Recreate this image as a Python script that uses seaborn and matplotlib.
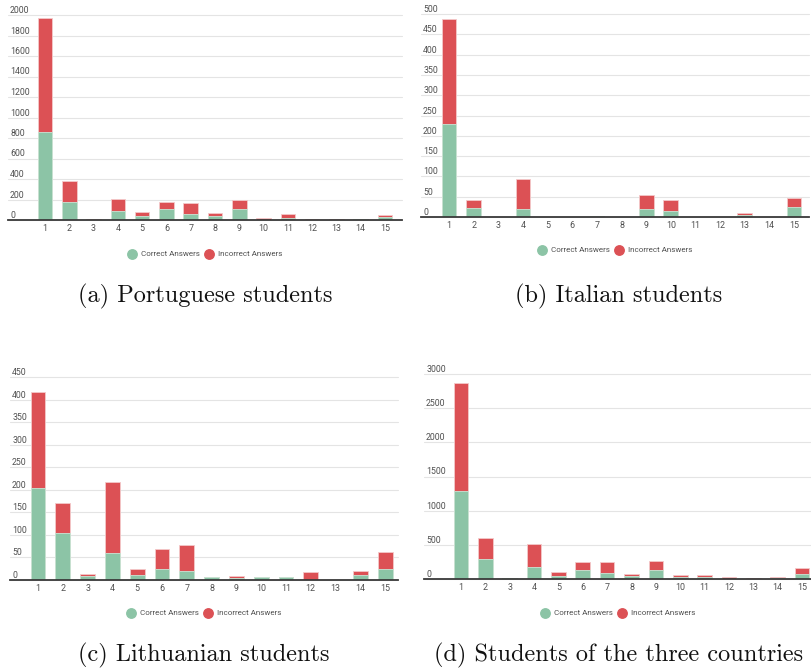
import matplotlib
matplotlib.use("Agg")
import matplotlib.pyplot as plt
from matplotlib.lines import Line2D
import seaborn as sns
import numpy as np

# Question numbers
questions = [str(i) for i in range(1, 16)]

# (a) Portuguese students
correct_pt = [855, 173, 3, 91, 39, 108, 62, 39, 108, 4, 16, 3, 2, 5, 30]
incorrect_pt = [1112, 209, 5, 114, 36, 71, 108, 29, 91, 12, 39, 5, 6, 0, 19]

# (b) Italian students
correct_it = [230, 23, 0, 19, 0, 0, 2, 0, 19, 16, 0, 0, 4, 0, 24]
incorrect_it = [258, 20, 0, 74, 0, 0, 0, 0, 34, 27, 0, 0, 7, 0, 24]

# (c) Lithuanian students
correct_lt = [203, 105, 9, 60, 10, 25, 20, 6, 5, 6, 6, 1, 0, 11, 24]
incorrect_lt = [214, 66, 4, 158, 14, 44, 57, 1, 4, 1, 1, 17, 0, 10, 39]

# (d) Students of the three countries
correct_all = [1290, 298, 12, 172, 49, 135, 84, 44, 132, 26, 22, 4, 6, 16, 76]
incorrect_all = [1583, 300, 9, 344, 52, 113, 164, 30, 130, 38, 41, 21, 11, 6, 78]

captions = ["(a) Portuguese students", "(b) Italian students",
            "(c) Lithuanian students", "(d) Students of the three countries"]
legend_labels = ["Correct Answers", "Incorrect Answers"]

GREEN = "#8cc4a6"
RED = "#dc5155"
TEXT = "#505050"

sns.set_theme(style="white")
plt.rcParams["font.family"] = ["Roboto", "DejaVu Sans"]

W, H = 812, 670
fig = plt.figure(figsize=(W / 100, H / 100), dpi=100)


def px_axes(left, right, top, bottom):
    return fig.add_axes([left / W, 1 - bottom / H, (right - left) / W, (bottom - top) / H])


def panel(ax, correct, incorrect, ymax, ystep, xlim):
    total = [c + i for c, i in zip(correct, incorrect)]
    sns.barplot(x=questions, y=total, order=questions, color=RED, saturation=1,
                width=0.6, linewidth=0.6, edgecolor="#f4c9ca", ax=ax)
    sns.barplot(x=questions, y=correct, order=questions, color=GREEN, saturation=1,
                width=0.6, linewidth=0.6, edgecolor="#c9e6d6", ax=ax)
    ax.set_xlim(*xlim)
    ax.set_ylim(0, ymax)
    ax.set_yticks(np.arange(0, ymax + 1, ystep))
    ax.set_xlabel("")
    ax.set_ylabel("")
    ax.grid(axis="y", color="#e4e4e4", linewidth=0.8)
    ax.set_axisbelow(True)
    for side in ("top", "left", "right"):
        ax.spines[side].set_visible(False)
    ax.spines["bottom"].set_color("#3a3a3a")
    ax.spines["bottom"].set_linewidth(1.3)
    ax.spines["bottom"].set_zorder(5)
    ax.tick_params(axis="x", length=0, pad=3.0, labelsize=6.4, labelcolor=TEXT)
    ax.tick_params(axis="y", length=0, pad=-1.5, labelsize=6.3, labelcolor=TEXT)
    for lab in ax.get_yticklabels():
        lab.set_horizontalalignment("left")
        lab.set_verticalalignment("bottom")
    for gl in ax.get_ygridlines():
        gl.set_clip_on(False)


def legend(cx, cy):
    handles = [Line2D([], [], marker="o", linestyle="", markersize=6.8,
                      markerfacecolor=GREEN, markeredgecolor=GREEN),
               Line2D([], [], marker="o", linestyle="", markersize=6.8,
                      markerfacecolor=RED, markeredgecolor=RED)]
    leg = fig.legend(handles, legend_labels, loc="center", ncol=2,
                     bbox_to_anchor=(cx / W, 1 - cy / H), frameon=False,
                     fontsize=5.8, handletextpad=0.6, columnspacing=0.7,
                     handlelength=1.0, borderpad=0)
    for t in leg.get_texts():
        t.set_color(TEXT)


def caption(text, cx, cy):
    fig.text(cx / W, 1 - cy / H, text, ha="center", va="center",
             fontsize=17.5, family=["cmr10", "DejaVu Serif"], color="#111111")


ax_a = px_axes(8, 402, 15, 220)
panel(ax_a, correct_pt, incorrect_pt, 2000, 200, (-1.52, 14.70))
legend(205, 254)
caption(captions[0], 205, 296)

ax_b = px_axes(421, 809, 14, 217)
panel(ax_b, correct_it, incorrect_it, 500, 50, (-1.14, 14.61))
legend(615, 250)
caption(captions[1], 619, 296)

ax_c = px_axes(10, 398, 377, 580)
panel(ax_c, correct_lt, incorrect_lt, 450, 50, (-1.13, 14.52))
legend(204, 613)
caption(captions[2], 204, 655)

ax_d = px_axes(424, 812, 374, 579)
panel(ax_d, correct_all, incorrect_all, 3000, 500, (-1.52, 14.41))
legend(618, 613)
caption(captions[3], 619, 655)

fig.savefig("out.png", dpi=100, facecolor="white")
